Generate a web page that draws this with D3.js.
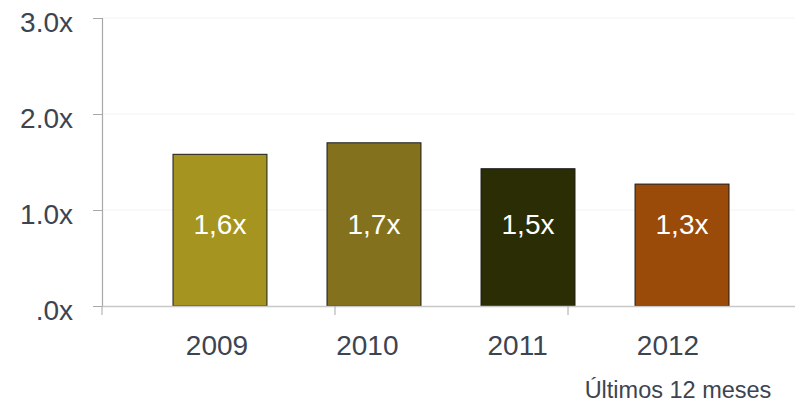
<!DOCTYPE html>
<html>
<head>
<meta charset="utf-8">
<script src="https://cdn.jsdelivr.net/npm/d3@7"></script>
<style>
  body { margin: 0; background: #fff; }
  svg { display: block; font-family: "Liberation Sans", Arial, sans-serif; }
</style>
</head>
<body>
<div id="chart"></div>
<script>
// Chart data
const years = ["2009", "2010", "2011", "2012"];
const multiples = [1.58, 1.70, 1.43, 1.27];
const valueLabels = ["1,6x", "1,7x", "1,5x", "1,3x"];
const barColors = ["#a69420", "#83711d", "#2b2e05", "#9a4a09"];
const yTicks = [0, 1, 2, 3];
const yTickLabels = [".0x", "1.0x", "2.0x", "3.0x"];
const footnote = "Últimos 12 meses";

const width = 795, height = 402;
const textColor = "#3d4451";

const svg = d3.select("#chart").append("svg")
  .attr("width", width)
  .attr("height", height);

// Scales
const y = d3.scaleLinear().domain([0, 3]).range([306, 18]);

const x = d3.scaleBand()
  .domain(years)
  .range([173, 729])
  .paddingInner(0.39)
  .paddingOuter(0);

// year labels sit a bit left of the bars in the original
const xLabel = d3.scalePoint().domain(years).range([217, 668]);

// axis tick marks along the baseline (spaced independently of the bars)
const xTick = d3.scaleLinear().domain([0, 3]).range([102, 801]);

// Faint gridlines
svg.append("g")
  .selectAll("line")
  .data(yTicks.filter(t => t > 0))
  .enter().append("line")
  .attr("x1", 102)
  .attr("x2", 795)
  .attr("y1", d => y(d))
  .attr("y2", d => y(d))
  .attr("stroke", "#f3f3f3")
  .attr("stroke-width", 1);

// Y axis
const yAxis = d3.axisLeft(y)
  .tickValues(yTicks)
  .tickSize(9)
  .tickFormat((d, i) => yTickLabels[i]);

const gy = svg.append("g")
  .attr("transform", "translate(102,0)")
  .call(yAxis);
gy.select(".domain").attr("stroke", "#a8a8a8").attr("stroke-width", 1.2);
gy.selectAll(".tick line").attr("stroke", "#a8a8a8");
gy.selectAll(".tick text")
  .attr("x", -29)
  .attr("dy", "0.48em")
  .attr("fill", textColor)
  .attr("font-size", "28px")
  .attr("font-family", "'Liberation Sans', Arial, sans-serif");

// Bars
svg.append("g")
  .selectAll("rect")
  .data(years)
  .enter().append("rect")
  .attr("x", d => x(d))
  .attr("y", (d, i) => y(multiples[i]))
  .attr("width", x.bandwidth())
  .attr("height", (d, i) => y(0) - y(multiples[i]))
  .attr("fill", (d, i) => barColors[i])
  .attr("stroke", "#1a1a1a")
  .attr("stroke-width", 1);

// Baseline
svg.append("line")
  .attr("x1", 102)
  .attr("x2", 795)
  .attr("y1", y(0) + 0.5)
  .attr("y2", y(0) + 0.5)
  .attr("stroke", "#c8c8c8")
  .attr("stroke-width", 1.6);

// X axis tick marks
svg.append("g")
  .selectAll("line")
  .data([0, 1, 2, 3])
  .enter().append("line")
  .attr("x1", d => xTick(d))
  .attr("x2", d => xTick(d))
  .attr("y1", y(0))
  .attr("y2", y(0) + 9)
  .attr("stroke", "#a8a8a8")
  .attr("stroke-width", 1);

// Value labels inside bars
svg.append("g")
  .selectAll("text")
  .data(years)
  .enter().append("text")
  .attr("x", d => x(d) + x.bandwidth() / 2)
  .attr("y", y(0.86))
  .attr("dy", "0.36em")
  .attr("text-anchor", "middle")
  .attr("fill", "#ffffff")
  .attr("font-size", "28px")
  .text((d, i) => valueLabels[i]);

// Year labels
svg.append("g")
  .selectAll("text")
  .data(years)
  .enter().append("text")
  .attr("x", d => xLabel(d))
  .attr("y", 355)
  .attr("text-anchor", "middle")
  .attr("fill", textColor)
  .attr("font-size", "28px")
  .text(d => d);

// Footnote
svg.append("text")
  .attr("x", 678)
  .attr("y", 398)
  .attr("text-anchor", "middle")
  .attr("fill", textColor)
  .attr("font-size", "23.5px")
  .text(footnote);
</script>
</body>
</html>
